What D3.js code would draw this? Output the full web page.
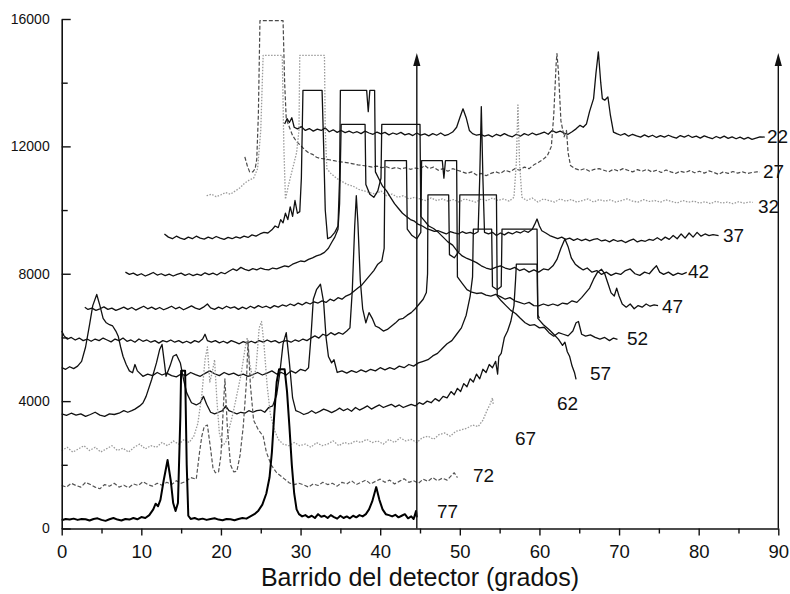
<!DOCTYPE html>
<html><head><meta charset="utf-8">
<script src="https://cdn.jsdelivr.net/npm/d3@7"></script>
<style>body{margin:0;background:#fff} text{font-family:"Liberation Sans",Arial,Helvetica,sans-serif;fill:#111}</style>
</head><body><svg id="c" width="790" height="594"></svg>
<script>
// ---------- data ----------
const seriesNames = ["22","27","32","37","42","47","52","57","62","67","72","77"];

const s22 = [[28.0,12700],[28.3,12870],[28.6,12750],[28.9,12900],[29.2,12600],[29.6,12550],[30.1,12620],[30.6,12500],[31.1,12560],[31.6,12480],[32.1,12540],[32.6,12500],[33.1,12580],[33.6,12460],[34.1,12520],[34.6,12440],[35.1,12500],[35.6,12430],[36.1,12480],[36.6,12420],[37.1,12460],[37.6,12400],[38.1,12480],[38.6,12420],[39.1,12380],[39.6,12450],[40.1,12390],[40.6,12440],[41.1,12360],[41.6,12420],[42.1,12380],[42.6,12440],[43.1,12360],[43.6,12400],[44.1,12340],[44.6,12420],[45.1,12350],[45.6,12390],[46.1,12330],[46.6,12400],[47.1,12350],[47.6,12420],[48.1,12340],[48.6,12380],[49.1,12450],[49.6,12600],[50.0,12900],[50.4,13180],[50.8,12900],[51.2,12500],[51.6,12400],[52.1,12350],[52.6,12380],[53.1,12320],[53.6,12360],[54.1,12300],[54.6,12380],[55.1,12330],[55.6,12400],[56.1,12340],[56.6,12300],[57.1,12380],[57.6,12320],[58.1,12400],[58.6,12350],[59.1,12420],[59.6,12360],[60.1,12400],[60.6,12450],[61.1,12380],[61.6,12500],[62.1,12430],[62.6,12480],[63.1,12420],[63.6,12380],[64.1,12460],[64.6,12550],[65.1,12660],[65.5,12600],[65.9,12700],[66.3,13100],[66.8,13500],[67.1,14300],[67.4,14970],[67.7,14000],[67.9,13500],[68.2,13450],[68.6,13550],[68.9,13000],[69.3,12450],[69.7,12400],[70.2,12350],[70.7,12400],[71.2,12320],[71.7,12380],[72.2,12330],[72.7,12290],[73.2,12360],[73.7,12300],[74.2,12350],[74.7,12280],[75.2,12340],[75.7,12290],[76.2,12350],[76.7,12300],[77.2,12260],[77.7,12340],[78.2,12290],[78.7,12350],[79.2,12280],[79.7,12320],[80.2,12260],[80.7,12330],[81.2,12280],[81.7,12240],[82.2,12310],[82.7,12260],[83.2,12320],[83.7,12250],[84.2,12300],[84.7,12240],[85.2,12290],[85.7,12230],[86.2,12280],[86.7,12220],[87.2,12260],[87.7,12300],[88.3,12290]];

const s27 = [[23.0,11670],[23.3,11400],[23.6,11200],[24.0,11200],[24.3,11300],[24.5,11600],[24.7,13000],[24.9,15950],[27.8,15950],[28.0,14000],[28.2,12870],[28.6,12600],[29,12340],[29.5,12150],[30,12030],[30.5,11900],[31,11800],[31.5,11750],[32,11660],[32.5,11620],[33,11610],[33.6,11580],[34.2,11550],[34.8,11520],[35.4,11500],[36,11480],[36.6,11450],[37.2,11420],[37.8,11400],[38.4,11380],[39,11350],[39.6,11380],[40.2,11330],[40.8,11360],[41.4,11300],[42,11340],[42.6,11290],[43.2,11330],[43.8,11280],[44.4,11320],[45,11290],[45.6,11400],[46.1,11300],[46.7,11350],[47.3,11250],[47.9,11300],[48.5,11220],[49.1,11300],[49.7,11250],[50.3,11200],[50.9,11150],[51.5,11200],[52.1,11100],[52.7,11150],[53.3,11080],[53.9,11150],[54.5,11200],[55.1,11150],[55.7,11250],[56.3,11200],[56.9,11300],[57.5,11250],[58.1,11350],[58.7,11300],[59.3,11420],[59.9,11500],[60.5,11600],[61,11710],[61.5,12000],[61.8,13000],[62.1,14600],[62.2,14915],[62.4,14300],[62.7,12800],[63.1,12300],[63.4,12500],[63.6,11800],[63.9,11400],[64.5,11300],[65.1,11250],[65.7,11300],[66.3,11220],[66.9,11280],[67.5,11300],[68.1,11250],[68.7,11200],[69.3,11280],[69.9,11230],[70.5,11300],[71.1,11250],[71.7,11200],[72.3,11270],[72.9,11220],[73.5,11280],[74.1,11200],[74.7,11250],[75.3,11180],[75.9,11260],[76.5,11200],[77.1,11150],[77.7,11220],[78.3,11180],[78.9,11240],[79.5,11170],[80.1,11220],[80.7,11160],[81.3,11230],[81.9,11180],[82.5,11120],[83.1,11200],[83.7,11150],[84.3,11210],[84.9,11160],[85.5,11200],[86.1,11150],[86.7,11180],[87.3,11200],[87.7,11190]];

const s32 = [[18.2,10450],[18.8,10500],[19.4,10420],[20,10480],[20.6,10550],[21.2,10500],[21.8,10600],[22.4,10700],[23,10850],[23.6,10950],[24.1,11000],[24.6,11300],[25.0,12500],[25.3,14860],[27.7,14860],[27.9,12000],[28.1,10340],[28.5,10800],[29,11300],[29.5,11800],[29.8,12500],[29.9,14860],[33.0,14860],[33.1,12500],[33.3,11300],[33.8,11150],[34.5,11000],[35.2,10900],[35.9,10800],[36.6,10750],[37.3,10650],[38,10600],[38.7,10550],[39.4,10500],[40.1,10600],[40.8,10450],[41.5,10500],[42.2,10400],[42.9,10450],[43.6,10350],[44.3,10400],[45,10350],[45.7,10300],[46.4,10380],[47.1,10300],[47.8,10350],[48.5,10280],[49.2,10330],[49.9,10250],[50.6,10350],[51.3,10300],[52,10250],[52.7,10350],[53.4,10300],[54.1,10380],[54.8,10300],[55.5,10350],[56.2,10280],[56.8,10400],[57.1,11500],[57.3,13300],[57.5,11500],[57.8,10400],[58.4,10300],[59.1,10380],[59.8,10250],[60.5,10350],[61.2,10300],[61.9,10250],[62.6,10350],[63.3,10280],[64,10330],[64.7,10250],[65.4,10300],[66.1,10350],[66.8,10250],[67.5,10330],[68.2,10280],[68.9,10320],[69.6,10250],[70.3,10300],[71,10350],[71.7,10280],[72.4,10250],[73.1,10330],[73.8,10270],[74.5,10300],[75.2,10250],[75.9,10320],[76.6,10270],[77.3,10220],[78,10300],[78.7,10250],[79.4,10280],[80.1,10220],[80.8,10260],[81.5,10200],[82.2,10280],[82.9,10220],[83.6,10250],[84.3,10200],[85,10260],[85.7,10220],[86.4,10250],[86.8,10240]];

const s37 = [[12.9,9250],[13.4,9150],[13.9,9100],[14.4,9180],[14.9,9120],[15.4,9080],[15.9,9150],[16.4,9100],[16.9,9180],[17.4,9120],[17.9,9090],[18.4,9150],[18.9,9100],[19.4,9170],[19.9,9120],[20.4,9080],[20.9,9140],[21.4,9100],[21.9,9160],[22.4,9120],[22.9,9180],[23.4,9140],[23.9,9220],[24.4,9180],[24.9,9250],[25.4,9300],[25.9,9280],[26.4,9380],[26.8,9500],[27.2,9450],[27.5,9700],[27.8,9600],[28.1,9900],[28.4,9700],[28.7,10100],[29.0,9800],[29.3,10300],[29.6,9900],[29.9,9950],[30.1,11000],[30.3,13760],[32.7,13760],[32.9,12000],[33.1,10000],[33.4,9100],[33.8,9150],[34.3,9300],[34.7,9500],[34.9,11000],[35.0,13760],[38.3,13760],[38.5,13090],[38.7,13760],[39.3,13760],[39.4,11200],[39.8,11000],[40.3,10750],[40.8,10600],[41.3,10400],[41.8,10200],[42.3,10050],[42.8,9900],[43.3,9800],[43.8,9700],[44.3,9650],[44.8,9550],[45.3,9500],[45.8,9420],[46.3,9380],[46.8,9330],[47.3,9350],[47.8,9300],[48.3,9250],[48.8,9320],[49.3,9280],[49.8,9250],[50.3,9320],[50.8,9270],[51.3,9300],[51.8,9250],[52.3,9320],[52.5,11000],[52.7,13250],[52.9,11000],[53.1,9300],[53.6,9250],[54.1,9300],[54.6,9200],[55.1,9280],[55.6,9220],[56.1,9300],[56.6,9250],[57.1,9320],[57.6,9280],[58.1,9350],[58.6,9300],[59.1,9400],[59.4,9550],[59.7,9720],[60.0,9500],[60.3,9350],[60.8,9280],[61.3,9200],[61.8,9150],[62.3,9100],[62.8,9150],[63.3,9080],[63.8,9120],[64.3,9050],[64.8,9100],[65.3,9040],[65.8,9090],[66.3,9030],[66.8,9080],[67.3,9100],[67.8,9030],[68.3,9060],[68.8,9000],[69.3,9070],[69.8,9020],[70.3,9050],[70.8,8980],[71.3,9040],[71.8,9090],[72.3,9000],[72.8,9050],[73.3,9020],[73.8,9080],[74.3,9050],[74.8,9130],[75.3,9050],[75.8,9150],[76.3,9080],[76.8,9200],[77.3,9100],[77.8,9250],[78.3,9120],[78.8,9280],[79.3,9150],[79.8,9300],[80.3,9180],[80.8,9250],[81.3,9200],[81.8,9230],[82.5,9200]];

const s42 = [[8,8050],[8.5,7980],[9,8020],[9.5,7950],[10,8000],[10.5,7930],[11,7980],[11.5,8040],[12,7960],[12.5,8000],[13,7940],[13.5,7990],[14,7930],[14.5,7980],[15,8020],[15.5,7950],[16,8000],[16.5,7940],[17,7990],[17.5,7950],[18,8030],[18.5,7970],[19,8020],[19.5,7960],[20,8040],[20.5,8000],[21,8080],[21.5,8150],[22,8100],[22.5,8200],[23,8140],[23.5,8100],[24,8160],[24.5,8120],[25,8180],[25.5,8140],[26,8120],[26.5,8180],[27,8150],[27.5,8200],[28,8250],[28.5,8220],[29,8300],[29.5,8350],[30,8400],[30.5,8380],[31,8450],[31.5,8500],[32,8560],[32.5,8600],[33,8670],[33.5,8800],[33.9,8980],[34.3,9150],[34.7,9400],[34.9,10200],[35.1,12690],[38.1,12690],[38.2,10800],[38.7,10500],[39.2,10400],[39.7,10600],[40.1,11000],[40.2,12690],[45.0,12690],[45.1,9800],[45.6,9650],[46.1,9500],[46.7,9420],[47.3,9300],[47.9,9150],[48.5,9000],[49.1,8900],[49.7,8700],[50.3,8560],[50.9,8480],[51.5,8420],[52.1,8350],[52.7,8250],[53.3,8180],[53.9,8140],[54.5,8200],[55.1,8250],[55.7,8180],[56.3,8140],[56.9,8200],[57.5,8100],[58.1,8150],[58.7,8050],[59.3,8120],[59.9,8050],[60.5,8150],[61.1,8120],[61.7,8250],[62.2,8450],[62.7,8800],[63.2,9090],[63.6,8850],[64.0,8500],[64.5,8300],[65,8200],[65.5,8120],[66,8180],[66.6,8050],[67.2,8100],[67.8,7980],[68.4,8050],[69,7950],[69.6,8020],[70.2,7980],[70.8,8100],[71.4,8150],[72,8000],[72.6,7950],[73.2,8050],[73.8,8000],[74.3,8150],[74.7,8250],[75.1,8050],[75.6,7980],[76.2,8050],[76.8,7950],[77.4,8020],[77.9,7980],[78.5,8040]];

const s47 = [[2.9,6950],[3.3,6880],[3.8,6920],[4.3,6850],[4.8,6900],[5.3,6960],[5.8,6880],[6.3,6920],[6.8,6850],[7.3,6900],[7.8,6950],[8.3,6880],[8.8,6940],[9.3,6860],[9.8,6920],[10.3,6980],[10.8,6900],[11.3,6950],[11.8,6880],[12.3,6940],[12.8,6870],[13.3,6920],[13.8,6980],[14.3,6900],[14.8,6950],[15.3,6870],[15.8,6930],[16.3,6990],[16.8,6920],[17.3,6880],[17.8,6950],[18.3,7050],[18.7,6930],[19.2,6880],[19.7,6950],[20.2,6900],[20.7,6980],[21.2,6920],[21.7,6960],[22.2,6880],[22.7,6950],[23.2,6900],[23.7,6980],[24.2,6920],[24.7,7000],[25.2,6940],[25.7,6980],[26.2,6920],[26.7,7000],[27.2,6950],[27.7,7020],[28.2,6980],[28.7,7050],[29.2,7000],[29.7,7080],[30.2,7020],[30.7,7100],[31.2,7050],[31.7,7120],[32.2,7080],[32.7,7150],[33.2,7100],[33.7,7200],[34.2,7150],[34.7,7250],[35.2,7200],[35.7,7300],[36.2,7350],[36.7,7450],[37.2,7550],[37.7,7650],[38.2,7800],[38.7,7950],[39.2,8100],[39.7,8300],[40.2,8400],[40.5,8800],[40.6,11555],[43.3,11555],[43.4,9400],[44,9200],[44.6,9100],[45.1,9300],[45.2,11555],[47.8,11555],[48.0,11000],[48.2,11555],[49.6,11555],[49.7,7900],[50.3,7700],[50.9,7500],[51.5,7420],[52.1,7380],[52.7,7400],[53.3,7330],[53.9,7300],[54.5,7350],[55.1,7280],[55.7,7200],[56.3,7250],[56.9,7150],[57.5,7100],[58.1,7050],[58.7,7100],[59.3,7000],[59.9,6990],[60.5,7050],[61.1,7000],[61.7,7050],[62.3,7000],[62.9,7080],[63.5,7050],[64.1,7150],[64.7,7100],[65.3,7250],[65.8,7400],[66.3,7550],[66.8,7830],[67.3,8050],[67.8,8140],[68.2,8000],[68.6,7700],[69.0,7400],[69.4,7300],[69.7,7550],[70.0,7300],[70.4,7050],[70.9,6950],[71.4,7050],[71.9,6900],[72.4,7000],[72.9,6950],[73.4,7050],[73.9,6980],[74.4,7020],[74.9,7000]];

const s52 = [[0,6200],[0.3,6050],[0.7,5950],[1.2,6000],[1.7,5920],[2.2,5980],[2.7,5900],[3.2,5950],[3.7,5880],[4.2,5950],[4.7,5900],[5.2,5980],[5.7,5920],[6.2,5860],[6.7,5950],[7.2,5900],[7.7,5980],[8.2,5880],[8.7,5920],[9.2,5850],[9.7,5950],[10.2,5880],[10.7,5920],[11.2,5850],[11.7,5900],[12.2,5820],[12.7,5900],[13.2,5860],[13.7,5920],[14.2,5850],[14.7,5900],[15.2,5830],[15.7,5880],[16.2,5820],[16.7,5900],[17.2,5850],[17.7,5950],[18.0,6100],[18.3,5900],[18.8,5850],[19.3,5900],[19.8,5830],[20.3,5880],[20.8,5820],[21.3,5900],[21.8,5850],[22.3,5800],[22.8,5870],[23.3,5820],[23.8,5880],[24.3,5830],[24.8,5900],[25.3,5850],[25.8,5920],[26.3,5860],[26.8,5900],[27.3,5830],[27.8,5880],[28.3,5900],[28.8,5850],[29.3,5920],[29.8,5880],[30.3,5950],[30.8,5900],[31.3,5980],[31.8,6050],[32.3,5980],[32.8,6100],[33.3,6050],[33.8,6150],[34.3,6080],[34.8,6150],[35.3,6100],[35.8,6200],[36.2,6300],[36.5,7500],[36.8,9500],[37.0,10450],[37.2,9600],[37.5,7800],[37.8,6900],[38.2,6460],[38.6,6780],[39.0,6600],[39.4,6360],[39.9,6300],[40.4,6200],[40.9,6250],[41.4,6350],[41.9,6450],[42.4,6570],[42.9,6600],[43.4,6700],[43.9,6780],[44.4,6900],[44.9,7050],[45.4,7200],[45.8,7410],[45.95,8000],[46.0,10474],[48.6,10474],[48.7,8600],[49.3,8500],[49.9,8700],[50.0,10474],[54.6,10474],[54.7,7300],[55.2,7150],[55.8,7000],[56.4,6850],[57,6750],[57.6,6600],[58.2,6460],[58.8,6380],[59.4,6400],[60,6300],[60.6,6320],[61.2,6150],[61.8,6040],[62.4,6150],[63,6100],[63.6,6050],[64.2,6200],[64.6,6460],[64.9,6500],[65.3,6100],[65.8,6040],[66.4,6080],[67,6000],[67.6,5950],[68.2,6000],[68.8,5900],[69.3,5980],[69.8,5940]];

const s57 = [[0,5050],[0.5,5000],[1,5080],[1.5,5020],[2,5100],[2.5,5250],[3.0,5700],[3.5,6400],[3.9,7000],[4.4,7350],[4.8,7000],[5.2,6600],[5.6,6460],[6.0,6400],[6.4,6360],[6.8,6200],[7.1,6040],[7.4,5700],[7.7,5410],[8.1,5150],[8.5,4950],[8.9,4890],[9.2,5150],[9.5,4950],[10.2,4780],[10.8,4850],[11.4,4800],[12,4900],[12.6,4820],[13.2,4880],[13.8,4800],[14.4,4760],[15,4850],[15.6,4800],[16.2,4900],[16.8,4830],[17.4,4780],[18,4870],[18.6,4950],[19.2,4860],[19.8,4800],[20.4,4900],[21,4830],[21.6,4880],[22.2,4800],[22.8,4850],[23.4,4780],[24,4830],[24.6,4900],[25.2,4820],[25.8,4880],[26.4,4950],[27,4850],[27.6,4900],[28.2,4820],[28.8,4950],[29.4,4880],[30,5000],[30.6,4950],[31.0,5050],[31.3,6000],[31.6,7200],[32.0,7500],[32.5,7670],[32.9,7100],[33.2,6000],[33.5,5400],[33.9,5200],[34.2,5300],[34.6,4900],[35.2,4950],[35.8,4880],[36.4,4960],[37,4900],[37.6,4980],[38.2,4920],[38.8,5000],[39.4,4950],[40,5050],[40.6,4980],[41.2,5050],[41.8,5000],[42.4,5100],[43,5050],[43.6,5150],[44.2,5100],[44.8,5200],[45.4,5250],[46,5300],[46.6,5420],[47.2,5500],[47.8,5650],[48.4,5800],[49,5900],[49.6,6100],[50.2,6300],[50.8,6700],[51.3,7300],[51.6,7900],[51.7,9400],[54.0,9400],[54.1,7600],[54.7,7500],[55.2,7600],[55.3,9400],[59.7,9400],[59.8,6600],[60.5,6400],[61.2,6250],[61.8,6100],[62.4,5940],[62.9,5750],[63.2,5850],[63.5,5550],[63.8,5400],[64.1,5100],[64.4,4900],[64.6,4680]];

const s62 = [[0,3600],[0.6,3550],[1.2,3620],[1.8,3560],[2.4,3600],[3,3520],[3.6,3580],[4.2,3650],[4.8,3560],[5.4,3520],[6,3600],[6.6,3580],[7.2,3620],[7.8,3700],[8.3,3650],[8.8,3700],[9.2,3750],[9.8,3850],[10.2,3940],[10.6,4150],[11.3,4680],[11.9,5200],[12.3,5620],[12.6,5780],[12.9,5200],[13.1,4780],[13.6,5100],[14.0,5410],[14.4,5465],[14.9,5200],[15.3,4680],[15.7,4260],[16.3,3950],[16.9,3880],[17.4,3950],[17.8,4150],[18.2,3900],[18.7,3650],[19.2,3600],[19.7,3650],[20.2,3700],[20.6,3850],[21,3700],[21.5,3650],[22,3600],[22.5,3650],[23,3620],[23.5,3700],[24,3650],[24.5,3700],[25,3720],[25.5,3650],[26,3800],[26.5,3850],[27,4200],[27.4,4900],[27.8,5800],[28.2,6150],[28.6,5200],[29,4100],[29.4,3700],[29.9,3650],[30.4,3580],[30.9,3620],[31.4,3700],[31.9,3620],[32.4,3680],[32.9,3750],[33.4,3700],[33.9,3640],[34.4,3700],[34.9,3780],[35.4,3700],[35.9,3760],[36.4,3680],[36.9,3800],[37.4,3720],[37.9,3780],[38.4,3850],[38.9,3750],[39.4,3820],[39.9,3880],[40.4,3800],[40.9,3850],[41.4,3900],[41.9,3820],[42.4,3880],[42.9,3800],[43.4,3850],[43.9,3900],[44.4,3850],[44.9,3950],[45.4,3900],[45.9,4000],[46.4,3950],[46.9,4080],[47.4,4000],[47.9,4150],[48.4,4100],[48.9,4300],[49.3,4200],[49.7,4400],[50.1,4300],[50.5,4550],[50.9,4450],[51.3,4700],[51.7,4600],[52.1,4850],[52.5,4700],[52.9,5000],[53.3,4900],[53.7,5150],[54.1,5050],[54.5,5250],[54.75,4850],[54.9,5400],[55.2,5500],[55.6,6000],[56.0,6200],[56.4,6500],[56.8,7000],[57.0,7800],[57.1,8300],[59.7,8300],[59.8,6700],[60,6600]];

const s67 = [[0,2450],[0.7,2550],[1.4,2400],[2.1,2500],[2.8,2600],[3.5,2450],[4.2,2550],[4.9,2400],[5.6,2500],[6.3,2600],[7,2450],[7.7,2520],[8.4,2400],[9.1,2550],[9.8,2650],[10.5,2500],[11.2,2600],[11.9,2550],[12.6,2700],[13.3,2600],[14,2750],[14.7,2650],[15.4,2800],[16,2700],[16.6,2900],[17.1,3300],[17.6,4200],[18.0,5300],[18.3,5700],[18.6,4600],[18.9,4900],[19.2,5300],[19.5,4000],[19.8,3000],[20.2,2600],[20.6,2700],[21,3100],[21.5,3600],[22,4200],[22.5,4800],[23,5600],[23.3,6000],[23.6,5200],[24,4700],[24.4,5000],[24.8,6300],[25.1,6500],[25.4,5800],[25.8,4500],[26.2,3600],[26.7,3100],[27.2,2800],[27.8,2650],[28.5,2600],[29.2,2700],[29.9,2600],[30.6,2650],[31.3,2550],[32,2700],[32.7,2600],[33.4,2650],[34.1,2750],[34.8,2600],[35.5,2700],[36.2,2650],[36.9,2750],[37.6,2700],[38.3,2800],[39,2700],[39.7,2750],[40.4,2650],[41.1,2800],[41.8,2700],[42.5,2850],[43.2,2750],[43.9,2800],[44.6,2700],[45.3,2850],[46,2900],[46.7,2800],[47.4,2950],[48.1,3000],[48.8,2900],[49.5,3050],[50.2,3100],[50.9,3150],[51.6,3250],[52.3,3200],[52.9,3400],[53.4,3700],[53.8,3900],[54.1,4100],[54.2,3900]];

const s72 = [[0,1350],[0.6,1300],[1.2,1420],[1.8,1350],[2.4,1300],[3,1450],[3.6,1380],[4.2,1300],[4.8,1250],[5.4,1380],[6,1330],[6.6,1420],[7.2,1300],[7.8,1360],[8.4,1280],[9,1400],[9.6,1350],[10.2,1470],[10.8,1380],[11.4,1330],[12,1420],[12.6,1360],[13.2,1450],[13.8,1380],[14.4,1500],[15,1420],[15.6,1480],[16.2,1600],[16.9,1550],[17.3,2370],[17.6,2900],[17.9,3200],[18.3,3250],[18.7,2500],[19.0,1900],[19.3,1750],[19.7,1780],[20.0,2300],[20.3,3800],[20.5,4700],[20.8,3200],[21.2,2000],[21.6,1780],[22.0,1800],[22.4,2300],[22.8,3200],[23.2,4600],[23.4,5900],[23.7,4500],[24.1,3400],[24.7,3100],[25.3,2900],[25.7,2400],[26.3,2000],[27.0,1750],[28.0,1550],[28.6,1430],[29.2,1380],[29.8,1420],[30.4,1370],[31,1300],[31.6,1400],[32.2,1350],[32.8,1450],[33.4,1380],[34,1420],[34.6,1330],[35.2,1450],[35.8,1400],[36.4,1500],[37,1380],[37.6,1450],[38.2,1520],[38.8,1400],[39.4,1480],[40,1550],[40.6,1450],[41.2,1520],[41.8,1400],[42.4,1480],[43,1560],[43.6,1450],[44.2,1500],[44.8,1420],[45.4,1550],[46,1480],[46.6,1600],[47.2,1500],[47.8,1580],[48.4,1520],[48.9,1650],[49.3,1750],[49.7,1600]];

const s77 = [[0,260],[0.5,300],[1,280],[1.5,310],[2,270],[2.5,300],[3,290],[3.5,250],[4,300],[4.5,320],[5,270],[5.5,240],[6,290],[6.5,330],[7,280],[7.5,250],[8,300],[8.5,280],[9,330],[9.5,290],[10,360],[10.5,330],[11,420],[11.5,600],[11.8,780],[12.1,700],[12.4,900],[12.8,1500],[13.3,2150],[13.7,1500],[14.0,800],[14.3,550],[14.6,800],[14.9,3500],[15.0,4950],[15.5,4950],[15.7,2000],[15.9,400],[16.2,300],[16.7,330],[17.2,280],[17.7,310],[18.2,270],[18.7,300],[19.2,320],[19.7,280],[20.2,260],[20.7,300],[21.2,290],[21.7,260],[22.2,300],[22.7,330],[23.2,310],[23.7,380],[24.2,450],[24.7,560],[25.2,750],[25.7,1100],[26.1,1600],[26.4,2400],[26.7,3600],[27.0,4600],[27.3,5000],[28.0,5000],[28.3,4300],[28.6,3200],[28.9,2000],[29.2,1100],[29.5,600],[29.8,450],[30.2,380],[30.6,420],[31,350],[31.4,400],[31.8,330],[32.2,450],[32.6,370],[33,400],[33.4,330],[33.8,420],[34.2,360],[34.6,310],[35,400],[35.4,330],[35.8,380],[36.2,320],[36.6,400],[37,350],[37.4,420],[37.8,380],[38.2,450],[38.6,600],[39.0,850],[39.5,1300],[39.9,900],[40.3,600],[40.7,450],[41.1,420],[41.5,380],[41.9,430],[42.3,350],[42.7,400],[43.1,450],[43.5,320],[43.9,380],[44.2,300],[44.5,550],[44.6,350]];

const seriesData = [s22,s27,s32,s37,s42,s47,s52,s57,s62,s67,s72,s77];

// curve labels (data coordinates: degrees, counts)
const labelDeg = [88.57,88.07,87.44,83.05,78.65,75.39,70.99,66.35,62.2,56.93,51.65,47.13];
const labelVal = [12105,11006,9907,8996,7866,6767,5762,4663,3721,2622,1460,330];

const xTicks = [0,10,20,30,40,50,60,70,80,90];
const xMinor = [5,15,25,35,45,55,65,75,85];
const yTicks = [0,4000,8000,12000,16000];
const yMinor = [2000,6000,10000,14000];
const arrowDeg = [44.6, 90];
const arrowTopVal = 14930;
const xTitle = "Barrido del detector (grados)";

// ---------- styles ----------
const styleOf = {
  "22":{c:"#111",w:1.3,d:null},
  "27":{c:"#4a4a4a",w:1.2,d:"4,2"},
  "32":{c:"#9a9a9a",w:1.3,d:"1.5,1.5"},
  "37":{c:"#111",w:1.3,d:null},
  "42":{c:"#111",w:1.3,d:null},
  "47":{c:"#111",w:1.3,d:null},
  "52":{c:"#111",w:1.3,d:null},
  "57":{c:"#111",w:1.3,d:null},
  "62":{c:"#111",w:1.3,d:null},
  "67":{c:"#9a9a9a",w:1.3,d:"1.5,1.5"},
  "72":{c:"#555",w:1.2,d:"4,2"},
  "77":{c:"#000",w:2.0,d:null}
};

// ---------- drawing ----------
const svg = d3.select("#c");
const x = d3.scaleLinear().domain([0,90]).range([61.7,778.3]);
const y = d3.scaleLinear().domain([0,16000]).range([528.5,19]);

const line = d3.line().x(d=>x(d[0])).y(d=>y(d[1]));
const gLines = svg.append("g");
seriesNames.forEach((n,i)=>{
  const st = styleOf[n];
  gLines.append("path").datum(seriesData[i])
    .attr("d",line).attr("fill","none")
    .attr("stroke",st.c).attr("stroke-width",st.w)
    .attr("stroke-linejoin","round")
    .attr("stroke-dasharray",st.d);
});

// arrows
arrowDeg.forEach(a=>{
  const ax = x(a), top = y(arrowTopVal);
  svg.append("line").attr("x1",ax).attr("x2",ax).attr("y1",y(0)).attr("y2",top+6)
    .attr("stroke","#111").attr("stroke-width",1.4);
  svg.append("path").attr("d",`M${ax},${top} L${ax-3.6},${top+13} L${ax+3.6},${top+13} Z`).attr("fill","#111");
});

// labels
seriesNames.forEach((n,i)=>{
  svg.append("text").attr("x",x(labelDeg[i])).attr("y",y(labelVal[i]))
    .attr("font-size",19).text(n);
});

// axes
const xAxis = svg.append("g").attr("transform",`translate(0,${y(0)})`)
  .call(d3.axisBottom(x).tickValues(xTicks).tickSize(7).tickSizeOuter(0).tickPadding(9).tickFormat(d3.format("d")));
svg.append("g").attr("transform",`translate(0,${y(0)})`)
  .call(d3.axisBottom(x).tickValues(xMinor).tickSize(5).tickSizeOuter(0).tickFormat(""))
  .select(".domain").remove();
const yAxis = svg.append("g").attr("transform",`translate(${x(0)},0)`)
  .call(d3.axisLeft(y).tickValues(yTicks).tickSize(-9).tickSizeOuter(0).tickPadding(12).tickFormat(d3.format("d")));
svg.append("g").attr("transform",`translate(${x(0)},0)`)
  .call(d3.axisLeft(y).tickValues(yMinor).tickSize(-6).tickSizeOuter(0).tickFormat(""))
  .select(".domain").remove();

svg.selectAll(".domain").attr("stroke","#111").attr("stroke-width",1.6);
svg.selectAll(".tick line").attr("stroke","#111").attr("stroke-width",1.4);
xAxis.selectAll("text").attr("font-size",18.5).attr("font-family","'Liberation Sans',Arial,sans-serif").attr("fill","#111");
yAxis.selectAll("text").attr("font-size",14).attr("font-family","'Liberation Sans',Arial,sans-serif").attr("fill","#111");

svg.append("text").attr("x",(x(0)+x(90))/2).attr("y",586).attr("text-anchor","middle")
  .attr("font-size",25).text(xTitle);
</script>
</body></html>
